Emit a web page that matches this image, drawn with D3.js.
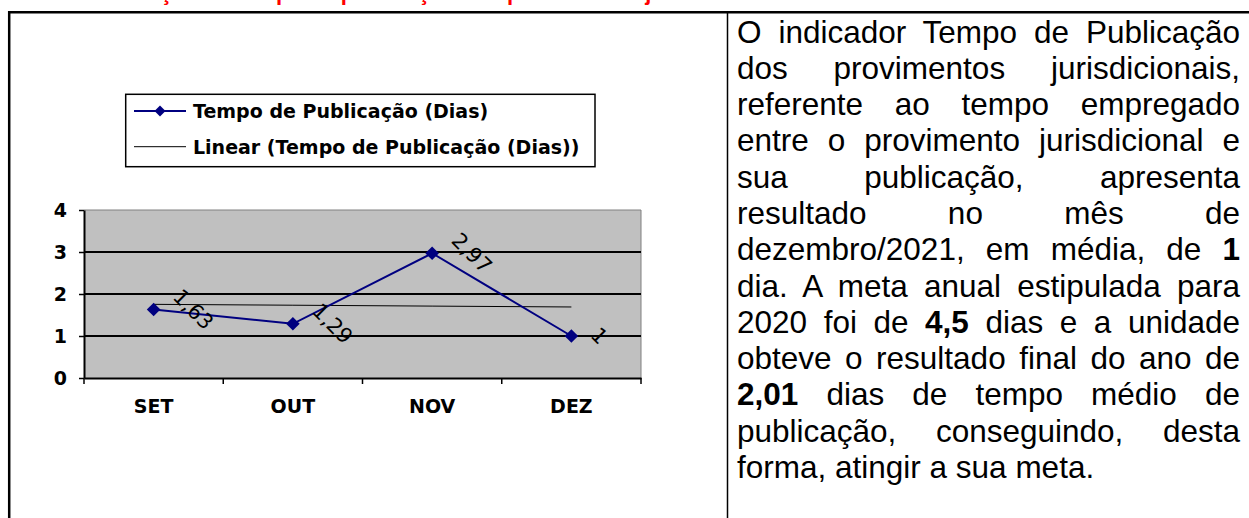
<!DOCTYPE html>
<html>
<head>
<meta charset="utf-8">
<script src="https://cdn.jsdelivr.net/npm/d3@7"></script>
<style>
  body { margin: 0; background: #fff; width: 1249px; height: 518px; overflow: hidden; position: relative; }
  #chart { position: absolute; left: 0; top: 0; }
  #texto { position: absolute; left: 737px; top: 13.5px; width: 503px;
           font-family: "Liberation Sans", Arial, sans-serif; font-size: 31.5px; color: #000; }
  #texto div { height: 36.3px; line-height: 36.3px; white-space: nowrap; text-align: justify; text-align-last: justify; }
  #texto div.ultima { text-align-last: left; }
</style>
</head>
<body>
<svg id="chart" width="1249" height="518"></svg>
<div id="texto"></div>
<script>
// dados do gráfico
const meses = ["SET", "OUT", "NOV", "DEZ"];
const tempoDias = [1.63, 1.29, 2.97, 1];
const yTicks = [0, 1, 2, 3, 4];
const serieNome = "Tempo de Publicação (Dias)";
const tendenciaNome = "Linear (Tempo de Publicação (Dias))";
const titulo = "Evolução do tempo de publicação dos provimentos jurisdicionais";

// texto ao lado (linhas como no original)
const linhas = [
  "O indicador Tempo de Publicação",
  "dos provimentos jurisdicionais,",
  "referente ao tempo empregado",
  "entre o provimento jurisdicional e",
  "sua publicação, apresenta",
  "resultado no mês de",
  "dezembro/2021, em média, de <b>1</b>",
  "dia. A meta anual estipulada para",
  "2020 foi de <b>4,5</b> dias e a unidade",
  "obteve o resultado final do ano de",
  "<b>2,01</b> dias de tempo médio de",
  "publicação, conseguindo, desta",
  "forma, atingir a sua meta."
];

const svg = d3.select("#chart");

// titulo em vermelho (cortado no topo, como no original)
svg.append("text")
    .attr("x", 100).attr("y", -0.5)
    .attr("font-family", "Liberation Sans, Arial, sans-serif")
    .attr("font-weight", "bold")
    .attr("font-size", 22)
    .attr("fill", "#ff0000")
    .text(titulo);

// bordas da tabela
svg.append("line").attr("x1", 8).attr("x2", 1249).attr("y1", 12.3).attr("y2", 12.3)
    .attr("stroke", "#000").attr("stroke-width", 2.5);
svg.append("line").attr("x1", 9.2).attr("x2", 9.2).attr("y1", 11).attr("y2", 518)
    .attr("stroke", "#000").attr("stroke-width", 2.5);
svg.append("line").attr("x1", 727.5).attr("x2", 727.5).attr("y1", 12).attr("y2", 518)
    .attr("stroke", "#000").attr("stroke-width", 1.5);

// escalas
const x = d3.scaleBand().domain(meses).range([84, 641]);
const y = d3.scaleLinear().domain([0, 4]).range([378, 210]);
const cx = m => x(m) + x.bandwidth() / 2;

// area do grafico
svg.append("rect")
    .attr("x", x.range()[0]).attr("y", y(4))
    .attr("width", x.range()[1] - x.range()[0]).attr("height", y(0) - y(4))
    .attr("fill", "#c0c0c0");
svg.append("path")
    .attr("d", `M${x.range()[0]},${y(4)}H${x.range()[1]}V${y(0)}`)
    .attr("fill", "none").attr("stroke", "#808080").attr("stroke-width", 1);

// linhas de grade
svg.append("g")
    .selectAll("line")
    .data(yTicks.filter(t => t > 0 && t < 4))
    .join("line")
    .attr("x1", x.range()[0]).attr("x2", x.range()[1])
    .attr("y1", d => y(d)).attr("y2", d => y(d))
    .attr("stroke", "#000").attr("stroke-width", 2);

// eixo y
const eixoY = svg.append("g")
    .attr("transform", `translate(${x.range()[0]},0)`)
    .call(d3.axisLeft(y).tickValues(yTicks).tickFormat(d3.format("d"))
        .tickSize(5).tickSizeOuter(0).tickPadding(12));
eixoY.select(".domain").attr("stroke", "#000").attr("stroke-width", 2);
eixoY.selectAll(".tick line").attr("stroke", "#000").attr("stroke-width", 1.5);
eixoY.selectAll("text")
    .attr("font-family", "DejaVu Sans, Verdana, sans-serif")
    .attr("font-weight", "bold").attr("font-size", 19).attr("fill", "#000");

// eixo x
const eixoX = svg.append("g")
    .attr("transform", `translate(0,${y(0)})`)
    .call(d3.axisBottom(x).tickSize(0).tickPadding(22));
eixoX.select(".domain").attr("stroke", "#000").attr("stroke-width", 2);
eixoX.selectAll("text")
    .attr("font-family", "DejaVu Sans, Verdana, sans-serif")
    .attr("font-weight", "bold").attr("font-size", 19).attr("fill", "#000");
// marcas entre categorias
eixoX.selectAll("line.sep")
    .data(d3.range(meses.length + 1))
    .join("line")
    .attr("class", "sep")
    .attr("x1", i => x.range()[0] + i * x.step()).attr("x2", i => x.range()[0] + i * x.step())
    .attr("y1", 0).attr("y2", 6)
    .attr("stroke", "#000").attr("stroke-width", 1.5);

// linha de tendencia (minimos quadrados)
const n = tempoDias.length;
const xs = d3.range(1, n + 1);
const mx = d3.mean(xs), my = d3.mean(tempoDias);
const slope = d3.sum(xs, (v, i) => (v - mx) * (tempoDias[i] - my)) / d3.sum(xs, v => (v - mx) ** 2);
const trend = xs.map(v => my + slope * (v - mx));

svg.append("path")
    .datum(trend)
    .attr("fill", "none")
    .attr("stroke", "#000").attr("stroke-width", 1)
    .attr("d", d3.line().x((d, i) => cx(meses[i])).y(d => y(d)));

// serie principal
svg.append("path")
    .datum(tempoDias)
    .attr("fill", "none")
    .attr("stroke", "#000080").attr("stroke-width", 2)
    .attr("d", d3.line().x((d, i) => cx(meses[i])).y(d => y(d)));

const diamante = r => `M0,${-r}L${r},0L0,${r}L${-r},0Z`;
svg.append("g")
    .selectAll("path")
    .data(tempoDias)
    .join("path")
    .attr("transform", (d, i) => `translate(${cx(meses[i])},${y(d)})`)
    .attr("d", diamante(6.8))
    .attr("fill", "#000080");

// rotulos de dados girados 45 graus
svg.append("g")
    .selectAll("text")
    .data(tempoDias)
    .join("text")
    .attr("font-family", "DejaVu Sans, Verdana, sans-serif")
    .attr("font-size", 21)
    .attr("fill", "#000")
    .attr("text-anchor", "middle")
    .attr("dominant-baseline", "central")
    .text(d => String(d).replace(".", ","))
    .each(function(d, i) {
        const L = this.getComputedTextLength();
        const w = (L + 14) * Math.SQRT1_2;
        const px = cx(meses[i]) + 18 + w / 2;
        const py = y(d);
        d3.select(this).attr("transform", `translate(${px},${py}) rotate(45)`);
    });

// legenda
const leg = svg.append("g");
leg.append("rect")
    .attr("x", 125.7).attr("y", 94.3).attr("width", 469.3).attr("height", 72.4)
    .attr("fill", "#fff").attr("stroke", "#000").attr("stroke-width", 1.5);
leg.append("line").attr("x1", 134).attr("x2", 186).attr("y1", 111).attr("y2", 111)
    .attr("stroke", "#000080").attr("stroke-width", 2);
leg.append("path").attr("transform", "translate(160,111)").attr("d", diamante(5.5)).attr("fill", "#000080");
leg.append("line").attr("x1", 134).attr("x2", 186).attr("y1", 146.7).attr("y2", 146.7)
    .attr("stroke", "#000").attr("stroke-width", 1);
leg.selectAll("text")
    .data([serieNome, tendenciaNome])
    .join("text")
    .attr("x", 193)
    .attr("y", (d, i) => [118, 153.5][i])
    .attr("font-family", "DejaVu Sans, Verdana, sans-serif")
    .attr("font-weight", "bold")
    .attr("font-size", 19)
    .attr("fill", "#000")
    .text(d => d);

// paragrafo
d3.select("#texto")
    .selectAll("div")
    .data(linhas)
    .join("div")
    .classed("ultima", (d, i) => i === linhas.length - 1)
    .html(d => d);
</script>
</body>
</html>
